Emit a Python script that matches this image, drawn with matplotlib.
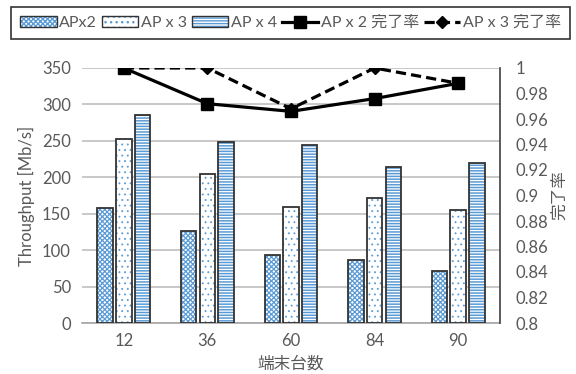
import matplotlib
matplotlib.use("Agg")
import matplotlib.pyplot as plt
import numpy as np
from matplotlib.patches import Patch
from matplotlib.lines import Line2D
from matplotlib.legend_handler import HandlerTuple

plt.rcParams['font.family'] = ['Lato', 'Noto Sans CJK JP', 'DejaVu Sans']
plt.rcParams['hatch.linewidth'] = 1.0

categories = ['12', '36', '60', '84', '90']
ap2 = [158, 126, 93, 86, 72]
ap3 = [253, 204, 159, 172, 155]
ap4 = [286, 248, 245, 214, 220]
rate2 = [1.0, 0.972, 0.966, 0.976, 0.988]
rate3 = [1.0, 1.0, 0.968, 1.0, 0.988]
series_names = ['APx2', 'AP x 3', 'AP x 4', 'AP x 2 完了率', 'AP x 3 完了率']

blue = '#5B9BD5'
edge = '#333333'
txt = '#595959'
fs = 12

fig = plt.figure(figsize=(5.76, 3.74), dpi=100)
ax = fig.add_axes([82/576, 1-323/374, (500-82)/576, (323-68)/374])

x = np.arange(len(categories))
w = 0.185
step = 0.224
hatches = ['xxxxxxx', '...', '------']
hlw = [0.9, 0.6, 1.1]


def set_hlw(p, v):
    if hasattr(p, 'set_hatch_linewidth'):
        p.set_hatch_linewidth(v)


for k, vals in enumerate([ap2, ap3, ap4]):
    pos = x + (k - 1) * step
    bars = ax.bar(pos, vals, w, color='white', edgecolor=blue, hatch=hatches[k], linewidth=0, zorder=2)
    for b in bars:
        set_hlw(b, hlw[k])
    ax.bar(pos, vals, w, color='none', edgecolor=edge, linewidth=1.3, zorder=3)

ax.set_xlim(-0.5, len(categories) - 0.5)
ax.set_ylim(0, 350)
ax.set_yticks(np.arange(0, 351, 50))
ax.set_xticks(x)
ax.set_xticklabels(categories)
ax.yaxis.grid(True, color='#BFBFBF', linewidth=1.2, zorder=0)
ax.set_axisbelow(True)
for s in ['top', 'left', 'right']:
    ax.spines[s].set_visible(False)
ax.spines['bottom'].set_color('#A6A6A6')
ax.spines['bottom'].set_linewidth(1.2)
ax.tick_params(axis='both', length=0, labelsize=fs, colors=txt, pad=8)
ax.tick_params(axis='x', pad=7)
ax.set_ylabel('Throughput [Mb/s]', fontsize=fs, color=txt, labelpad=5)
ax.set_xlabel('端末台数', fontsize=fs, color=txt, labelpad=5)

ax2 = ax.twinx()
ax2.set_ylim(0.8, 1.0)
yt = np.round(np.arange(0.8, 1.0001, 0.02), 2)
ax2.set_yticks(yt)
ax2.set_yticklabels(['%g' % v for v in yt])
ax2.plot(x, rate2, color='black', linewidth=2.3, marker='s', markersize=8, zorder=5)
ax2.plot(x, rate3, color='black', linewidth=2.3, linestyle=(0, (3.2, 1.6)), marker='D', markersize=6, zorder=5)
for s in ['top', 'left', 'bottom']:
    ax2.spines[s].set_visible(False)
ax2.spines['right'].set_color('#404040')
ax2.spines['right'].set_linewidth(1.2)
ax2.tick_params(axis='y', length=0, labelsize=fs, colors=txt, pad=11)
ax2.set_ylabel('完了率', fontsize=fs, color=txt, labelpad=2)

patch_handles = []
for k in range(3):
    p1 = Patch(facecolor='white', edgecolor=blue, hatch=hatches[k], linewidth=0)
    set_hlw(p1, hlw[k])
    p2 = Patch(facecolor='none', edgecolor=edge, linewidth=1.0)
    patch_handles.append((p1, p2))
handles = patch_handles + [
    Line2D([], [], color='black', linewidth=2.3, marker='s', markersize=8),
    Line2D([], [], color='black', linewidth=2.3, linestyle=(0, (3.2, 1.6)), marker='D', markersize=6),
]
leg = fig.legend(handles, series_names, loc='upper left', bbox_to_anchor=(11/576, 1-7/374),
                 ncol=5, frameon=True, fontsize=11.5, handlelength=2.3, handletextpad=0.15,
                 columnspacing=0.3, borderaxespad=0, borderpad=0.55, fancybox=False,
                 handler_map={tuple: HandlerTuple(ndivide=1, pad=0)})
leg.get_frame().set_edgecolor('black')
leg.get_frame().set_linewidth(1.2)
for t in leg.get_texts():
    t.set_color(txt)

fig.savefig('out.png', dpi=100)
